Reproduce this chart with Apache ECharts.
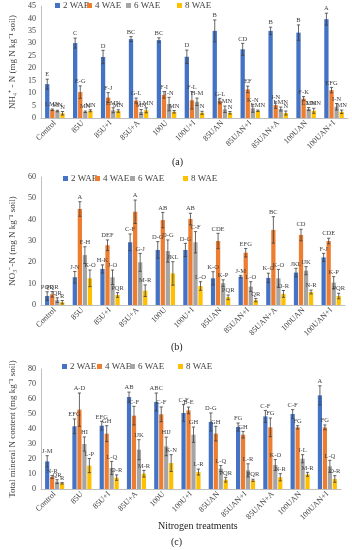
<!DOCTYPE html>
<html><head><meta charset="utf-8">
<script src="https://cdn.jsdelivr.net/npm/echarts@6/dist/echarts.min.js"></script>
<style>html,body{margin:0;padding:0;background:#fff}#c{width:352px;height:550px}</style>
</head><body><div id="c"></div>
<script>
const categories = ['Control','85U','85U+I','85U+A','100U','100U+I','85UAN','85UAN+I','85UAN+A','100UAN','100UAN+I'];
const seriesNames = ['2 WAE','4 WAE','6 WAE','8 WAE'];
const colors = ['#4472C4','#ED7D31','#A5A5A5','#FFC000'];

// (a) NH4+-N
const nh4_2 = [13.6, 30.1, 24.5, 31.7, 31.3, 24.6, 35.0, 27.6, 35.0, 34.3, 39.7];
const nh4_4 = [3.3, 10.4, 8.2, 7.0, 9.3, 7.1, 6.8, 11.5, 5.2, 7.8, 11.2];
const nh4_6 = [2.8, 2.5, 3.1, 2.4, 5.6, 6.5, 3.5, 3.9, 3.6, 3.6, 4.5];
const nh4_8 = [1.9, 2.9, 2.8, 3.1, 2.5, 2.1, 2.1, 2.9, 2.0, 2.9, 2.5];
const nh4_2e = [2.0, 2.0, 2.7, 1.0, 0.9, 2.7, 4.4, 2.4, 1.5, 3.1, 2.4];
const nh4_4e = [0.3, 2.5, 2.0, 1.0, 1.3, 3.5, 1.1, 1.3, 1.3, 0.8, 1.1];
const nh4_6e = [0.3, 0.3, 1.0, 1.0, 2.7, 1.5, 1.3, 1.6, 0.8, 0.6, 1.3];
const nh4_8e = [0.7, 0.4, 0.5, 1.0, 0.5, 0.6, 0.5, 0.3, 0.8, 1.0, 0.7];
const nh4_2l = ['E','C','D','BC','BC','D','B','CD','B','B','A'];
const nh4_4l = ['LMN','E-G','F-J','G-L','F-I','F-L','G-L','EF','I-N','F-K','EFG'];
const nh4_6l = ['MN','MN','LMN','MN','I-N','H-M','LMN','K-N','LMN','LMN','I-N'];
const nh4_8l = ['N','MN','MN','LMN','MN','N','N','LMN','N','LMN','MN'];

// (b) NO3--N
const no3_2 = [4.2, 13.0, 16.9, 29.4, 25.8, 25.8, 12.5, 13.3, 12.7, 15.2, 22.3];
const no3_4 = [5.0, 45.0, 28.0, 43.7, 39.8, 40.3, 30.0, 24.5, 35.2, 32.8, 30.0];
const no3_6 = [2.3, 23.4, 13.0, 20.0, 25.3, 29.4, 10.2, 8.6, 12.5, 16.1, 10.5];
const no3_8 = [1.3, 12.5, 4.7, 6.7, 14.8, 8.9, 3.6, 2.3, 5.2, 6.1, 4.2];
const no3_2e = [2.0, 2.7, 1.9, 3.9, 3.9, 3.1, 3.1, 0.6, 2.2, 2.0, 1.9];
const no3_4e = [1.3, 3.4, 2.5, 5.5, 3.6, 2.7, 3.6, 2.0, 6.2, 2.7, 1.3];
const no3_6e = [1.1, 3.9, 3.4, 4.2, 5.2, 5.0, 1.6, 2.3, 4.2, 1.9, 2.8];
const no3_8e = [0.8, 3.9, 1.1, 2.7, 5.5, 2.0, 1.1, 0.8, 1.6, 0.9, 1.3];
const no3_2l = ['PQR','J-N','H-K','C-F','D-G','D-G','K-O','J-M','K-O','JKL','F-J'];
const no3_4l = ['PQR','A','DEF','A','AB','AB','CDE','EFG','BC','CD','CDE'];
const no3_6l = ['QR','E-H','J-O','G-J','D-G','C-F','K-P','L-O','K-O','IJK','K-P'];
const no3_8l = ['R','K-O','PQR','M-R','JKL','L-O','PQR','QR','O-R','N-R','PQR'];

// (c) Total mineral N
const tot_2 = [18.4, 41.8, 42.2, 61.3, 58.0, 50.7, 44.7, 41.3, 48.4, 50.0, 62.4];
const tot_4 = [8.0, 52.9, 36.9, 48.9, 49.8, 52.4, 36.9, 36.2, 41.1, 41.1, 41.1];
const tot_6 = [4.9, 30.0, 14.0, 26.2, 28.4, 36.2, 13.6, 12.4, 16.0, 20.2, 15.1];
const tot_8 = [3.8, 15.6, 7.6, 10.2, 17.3, 11.3, 6.2, 5.8, 7.8, 9.8, 6.7];
const tot_2e = [3.8, 4.9, 2.9, 3.3, 6.0, 5.6, 6.0, 2.7, 4.0, 2.9, 6.4];
const tot_4e = [0.9, 11.1, 5.3, 6.2, 4.9, 2.2, 4.9, 2.2, 6.2, 1.1, 1.6];
const tot_6e = [1.3, 4.7, 4.4, 6.7, 6.2, 5.1, 2.0, 4.4, 3.6, 2.7, 4.0];
const tot_8e = [0.5, 4.7, 1.8, 2.2, 5.6, 2.0, 1.6, 0.7, 2.4, 1.3, 2.2];
const tot_2l = ['J-M','EFG','EFG','AB','ABC','C-F','D-G','FG','C-F','C-F','A'];
const tot_4l = ['N-R','A-D','GH','C-F','C-F','B-E','GH','GH','FG','FG','FG'];
const tot_6l = ['QR','HI','L-Q','IJK','HIJ','GH','L-Q','L-R','K-O','I-L','L-Q'];
const tot_8l = ['R','L-P','O-R','M-R','K-N','L-R','PQR','PQR','N-R','M-R','O-R'];

const yNames = ['NH\u2084\u207A - N (mg N kg\u207B\u00B9 soil)', 'NO\u2083\u207B-N (mg N kg\u207B\u00B9 soil)', 'Total mineral N content (mg kg\u207B\u00B9 soil)'];
const yMax = [45, 60, 80];
const yInt = [5, 10, 10];
const panelLabels = ['(a)', '(b)', '(c)'];

const panels = [
  {vals:[nh4_2,nh4_4,nh4_6,nh4_8], errs:[nh4_2e,nh4_4e,nh4_6e,nh4_8e], labs:[nh4_2l,nh4_4l,nh4_6l,nh4_8l]},
  {vals:[no3_2,no3_4,no3_6,no3_8], errs:[no3_2e,no3_4e,no3_6e,no3_8e], labs:[no3_2l,no3_4l,no3_6l,no3_8l]},
  {vals:[tot_2,tot_4,tot_6,tot_8], errs:[tot_2e,tot_4e,tot_6e,tot_8e], labs:[tot_2l,tot_4l,tot_6l,tot_8l]}
];

const FONT = "'Liberation Serif','Times New Roman',serif";
const CAT_GAP = 0.30, BAR_GAP = 0.18;
const grids = [
  {left: 36, right: 4, top: 6, height: 112},
  {left: 38, right: 7, top: 177, height: 128},
  {left: 41, right: 11, top: 369, height: 120}
];
const nameGaps = [17, 21, 21];
const legendPos = [
  {y: 1, xs: [55, 87, 126, 177]},
  {y: 174, xs: [63, 95, 130, 183]},
  {y: 362, xs: [62, 97, 130, 178]}
];
const panelLabelPos = [[178, 163], [177, 348], [177, 543]];

const xAxes = [], yAxes = [], series = [], legends = [], graphics = [];
panels.forEach((p, pi) => {
  xAxes.push({
    gridIndex: pi, type: 'category', data: categories,
    axisLine: {lineStyle: {color: '#BFBFBF'}}, axisTick: {show: false},
    axisLabel: {rotate: 45, fontSize: 8, fontFamily: FONT, color: '#404040', margin: 4, interval: 0}
  });
  yAxes.push({
    gridIndex: pi, type: 'value', min: 0, max: yMax[pi], interval: yInt[pi],
    axisLine: {show: true, lineStyle: {color: '#BFBFBF'}}, axisTick: {show: false},
    splitLine: {show: false},
    axisLabel: {fontSize: 8, fontFamily: FONT, color: '#404040', margin: 5},
    name: yNames[pi], nameLocation: 'middle', nameGap: nameGaps[pi],
    nameTextStyle: {fontSize: 9, fontFamily: FONT, color: '#404040'}
  });
  p.vals.forEach((arr, si) => {
    series.push({
      type: 'bar', name: seriesNames[si], xAxisIndex: pi, yAxisIndex: pi,
      data: arr, itemStyle: {color: colors[si]},
      barCategoryGap: (CAT_GAP*100) + '%', barGap: (BAR_GAP*100) + '%',
      emphasis: {disabled: true}, animation: false
    });
  });
  p.vals.forEach((arr, si) => {
    const errs = p.errs[si], labs = p.labs[si];
    series.push({
      type: 'custom', xAxisIndex: pi, yAxisIndex: pi, z: 5, clip: false, animation: false,
      data: arr.map((v, i) => [i, v, errs[i]]),
      renderItem: function (params, api) {
        const ci = api.value(0), v = api.value(1), e = api.value(2);
        const band = api.size([1, 0])[0];
        const n = 4;
        const bw = band * (1 - CAT_GAP) / (n + (n - 1) * BAR_GAP);
        const total = n * bw + (n - 1) * BAR_GAP * bw;
        const center = api.coord([ci, 0])[0];
        const x = center - total / 2 + si * bw * (1 + BAR_GAP) + bw / 2;
        const top = api.coord([ci, v + e])[1];
        const bot = api.coord([ci, Math.max(v - e, 0)])[1];
        const cap = 1.6;
        const ls = {stroke: '#404040', lineWidth: 0.8};
        return {type: 'group', children: [
          {type: 'line', shape: {x1: x, y1: top, x2: x, y2: bot}, style: ls},
          {type: 'line', shape: {x1: x - cap, y1: top, x2: x + cap, y2: top}, style: ls},
          {type: 'line', shape: {x1: x - cap, y1: bot, x2: x + cap, y2: bot}, style: ls},
          {type: 'text', style: {text: labs[params.dataIndex], x: x, y: top - 1, align: 'center', verticalAlign: 'bottom',
            fontSize: 6.5, fontFamily: FONT, fill: '#404040'}}
        ]};
      }
    });
  });
  seriesNames.forEach((nm, si) => {
    legends.push({
      left: legendPos[pi].xs[si], top: legendPos[pi].y, padding: 0,
      data: [nm], icon: 'rect', itemWidth: 5, itemHeight: 5, itemGap: 3,
      textStyle: {fontSize: 9, fontFamily: FONT, color: '#404040', padding: [0,0,0,-2]},
      selectedMode: false
    });
  });
  graphics.push({type: 'text', left: panelLabelPos[pi][0] - 6, top: panelLabelPos[pi][1] - 6,
    style: {text: panelLabels[pi], fontSize: 10, fontFamily: FONT, fill: '#222'}});
});
graphics.push({type: 'text', left: 158, top: 521,
  style: {text: 'Nitrogen treatments', fontSize: 10, fontFamily: FONT, fill: '#222'}});

const chart = echarts.init(document.getElementById('c'), null, {renderer: 'canvas'});
chart.setOption({
  animation: false,
  grid: grids,
  xAxis: xAxes, yAxis: yAxes, series: series, legend: legends, graphic: graphics
});
</script></body></html>
